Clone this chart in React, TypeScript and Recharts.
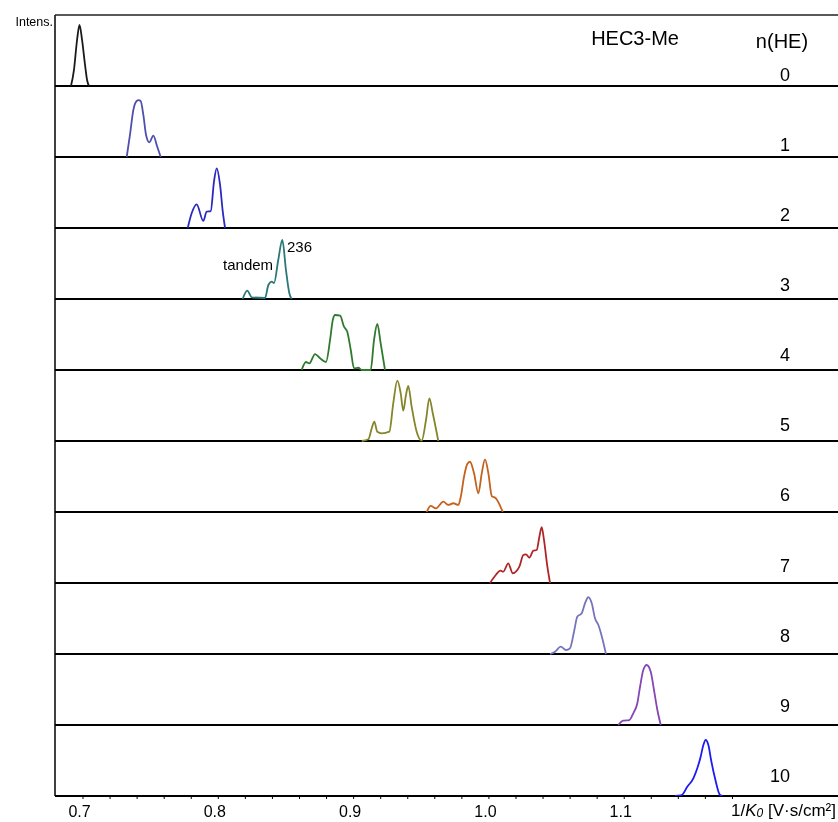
import React from "react";
import { LineChart, Line, XAxis, YAxis, ReferenceLine, ReferenceDot } from "recharts";

const FONT = '"Liberation Sans", Arial, Helvetica, sans-serif';

// tick values on the 1/K0 axis
const K_TICKS = [0.7, 0.72, 0.74, 0.76, 0.78, 0.8, 0.82, 0.84, 0.86, 0.88, 0.9, 0.92, 0.94, 0.96, 0.98, 1.0, 1.02, 1.04, 1.06, 1.08, 1.1, 1.12, 1.14, 1.16, 1.18];
const K_MAJOR = [0.7, 0.8, 0.9, 1.0, 1.1];
const K_MAJOR_LABELS = ["0.7", "0.8", "0.9", "1.0", "1.1"];

// panel labels n(HE)
const N_LABELS = ["0", "1", "2", "3", "4", "5", "6", "7", "8", "9", "10"];
const COLORS = ["#1a1a1a", "#4f4fae", "#2a2abf", "#2a7878", "#2f7a2f", "#85852a", "#c4621f", "#b02626", "#7474be", "#8646b6", "#1c1cf2"];

// traces: [1/K0, relative intensity (% of panel height)]
const HE0 = [[0.6911, 0], [0.6933, 22.5], [0.6956, 64.8], [0.6974, 85.9], [0.6993, 64.8], [0.7015, 29.6], [0.703, 8.5], [0.7044, 0]];
const HE1 = [[0.7323, 0], [0.7347, 31.0], [0.7372, 66.2], [0.7397, 78.9], [0.7411, 80.0], [0.7426, 78.9], [0.7446, 59.2], [0.7466, 31.0], [0.749, 20.7], [0.752, 30.0], [0.7547, 15.5], [0.7574, 0]];
const HE2 = [[0.7774, 0], [0.7803, 20.7], [0.784, 33.4], [0.7889, 9.9], [0.7914, 23.0], [0.7944, 23.9], [0.7968, 65.2], [0.7988, 84.1], [0.8013, 60.6], [0.8033, 23.0], [0.805, 0]];
const HE3 = [[0.818, 0], [0.8214, 11.7], [0.8247, 2.4], [0.8345, 1.4], [0.837, 19.7], [0.8395, 24.4], [0.8412, 22.5], [0.8443, 54.9], [0.8473, 83.1], [0.85, 40.8], [0.8525, 8.0], [0.8542, 0]];
const HE4 = [[0.8616, 0], [0.8648, 11.3], [0.8673, 9.4], [0.8715, 22.5], [0.8752, 16.5], [0.8796, 11.3], [0.8826, 42.3], [0.8846, 70.4], [0.8863, 77.5], [0.89, 76.5], [0.8929, 61.0], [0.8953, 53.9], [0.8979, 28.2], [0.9003, 2.4], [0.9035, 3.2], [0.906, 0], [0.9126, 0], [0.9151, 42.3], [0.9175, 64.8], [0.92, 37.6], [0.9232, 0]];
const HE5 = [[0.906, 0], [0.9109, 2.4], [0.9134, 17.9], [0.9153, 27.2], [0.9175, 13.1], [0.9208, 10.8], [0.9264, 13.1], [0.9293, 53.1], [0.9323, 84.9], [0.9348, 67.2], [0.9367, 42.7], [0.9387, 64.8], [0.9404, 77.5], [0.9429, 48.3], [0.9466, 13.1], [0.9503, 0.4], [0.9535, 29.6], [0.956, 60.1], [0.9585, 39.0], [0.9626, 0]];
const HE6 = [[0.954, 0], [0.957, 8.5], [0.9609, 5.2], [0.9663, 14.5], [0.97, 9.9], [0.9737, 12.3], [0.9774, 9.9], [0.9792, 21.5], [0.9816, 49.7], [0.984, 67.6], [0.986, 70.8], [0.989, 54.5], [0.9922, 26.3], [0.9947, 54.5], [0.9971, 74.2], [0.9996, 54.5], [1.0021, 22.5], [1.0052, 19.3], [1.0102, 0]];
const HE7 = [[1.0008, 0], [1.0045, 9.9], [1.0087, 17.3], [1.0106, 15.9], [1.0143, 27.7], [1.0176, 13.7], [1.0225, 23.0], [1.0254, 39.4], [1.0274, 40.4], [1.0299, 35.6], [1.0328, 45.5], [1.0353, 46.5], [1.0373, 65.2], [1.039, 78.5], [1.0407, 60.6], [1.0432, 23.0], [1.0452, 0]];
const HE8 = [[1.0452, 0], [1.0489, 3.2], [1.0531, 10.3], [1.057, 5.6], [1.0599, 8.0], [1.0629, 31.4], [1.0653, 52.5], [1.0686, 57.3], [1.071, 71.4], [1.0735, 79.9], [1.076, 71.4], [1.0784, 50.3], [1.0809, 40.8], [1.0841, 19.7], [1.0865, 0]];
const HE9 = [[1.0956, 0], [1.0993, 6.1], [1.1038, 7.0], [1.1067, 16.5], [1.1097, 30.6], [1.1117, 53.9], [1.1141, 77.5], [1.1166, 84.5], [1.1196, 75.1], [1.122, 49.3], [1.1245, 21.1], [1.127, 0]];
const HE10 = [[1.1375, 0], [1.1425, 1.4], [1.1466, 13.1], [1.1511, 24.9], [1.154, 39.0], [1.1565, 55.4], [1.1585, 71.8], [1.1602, 78.9], [1.1622, 71.8], [1.1642, 50.7], [1.1671, 24.9], [1.1708, 1.4], [1.1728, 0]];

const TRACES = [HE0, HE1, HE2, HE3, HE4, HE5, HE6, HE7, HE8, HE9, HE10];
const PANELS = TRACES.length;
const X_DOMAIN = [0.6793, 1.258];

const seriesData = TRACES.map((t, n) =>
  t.map(([k, v]) => ({ k, y: PANELS - 1 - n + v / 100 }))
);

const KTick = (props: any) => {
  const { x, y, payload } = props;
  const idx = K_MAJOR.findIndex((m) => Math.abs(m - payload.value) < 1e-6);
  if (idx < 0) return <g />;
  return (
    <text x={x - 3.5} y={y + 16} textAnchor="middle" fontSize={16} fill="#000" fontFamily={FONT}>
      {K_MAJOR_LABELS[idx]}
    </text>
  );
};

const textShape = (content: React.ReactNode, opts: { anchor?: string; size?: number; dx?: number; dy?: number }) =>
  (p: any) => (
    <text
      x={p.cx + (opts.dx || 0)}
      y={p.cy + (opts.dy || 0)}
      textAnchor={opts.anchor || "middle"}
      dominantBaseline="central"
      fontSize={opts.size || 15}
      fill="#000"
      fontFamily={FONT}
    >
      {content}
    </text>
  );

export default function App() {
  return (
    <div style={{ position: "fixed", left: 0, top: 0, width: 838, height: 822 }}>
      <LineChart width={838} height={822} margin={{ top: 15, right: 0, bottom: 0, left: 55 }}>
        <XAxis
          type="number"
          dataKey="k"
          domain={X_DOMAIN}
          ticks={K_TICKS}
          interval={0}
          tick={<KTick />}
          tickSize={3}
          tickLine={{ stroke: "#000" }}
          axisLine={false}
          height={26}
          allowDataOverflow
        />
        <YAxis type="number" domain={[0, PANELS]} hide allowDataOverflow />
        <ReferenceLine x={X_DOMAIN[0]} stroke="#000" strokeWidth={1.5} />
        {N_LABELS.map((_, i) => (
          <ReferenceLine key={"b" + i} y={i} stroke="#000" strokeWidth={2.2} />
        ))}
        <ReferenceLine y={PANELS} stroke="#222" strokeWidth={1.5} />
        {seriesData.map((d, n) => (
          <Line
            key={"s" + n}
            data={d}
            dataKey="y"
            type="monotone"
            stroke={COLORS[n]}
            strokeWidth={1.8}
            dot={false}
            isAnimationActive={false}
          />
        ))}
        {N_LABELS.map((lab, n) => (
          <ReferenceDot
            key={"n" + n}
            x={1.2225}
            y={PANELS - 1 - n + 0.155 + n * 0.013}
            r={1}
            shape={textShape(lab, { anchor: "end", size: 18 })}
          />
        ))}
        <ReferenceDot x={1.108} y={10.676} r={1} shape={textShape("HEC3-Me", { size: 20 })} />
        <ReferenceDot x={1.2166} y={10.64} r={1} shape={textShape("n(HE)", { size: 20 })} />
        <ReferenceDot x={0.8508} y={7.746} r={1} shape={textShape("236", { anchor: "start", size: 15 })} />
        <ReferenceDot x={0.822} y={7.479} r={1} shape={textShape("tandem", { size: 15 })} />
        <ReferenceDot x={X_DOMAIN[0]} y={PANELS} r={1} shape={textShape("Intens.", { anchor: "end", size: 12.5, dx: -2, dy: 7 })} />
        <ReferenceDot
          x={1.2565}
          y={0}
          r={1}
          shape={textShape(
            <>
              <tspan>1/</tspan>
              <tspan fontStyle="italic">K</tspan>
              <tspan fontStyle="italic" fontSize={12} dy={3}>0</tspan>
              <tspan dy={-3}> [V·s/cm²]</tspan>
            </>,
            { anchor: "end", size: 17, dy: 14 }
          )}
        />
      </LineChart>
    </div>
  );
}
